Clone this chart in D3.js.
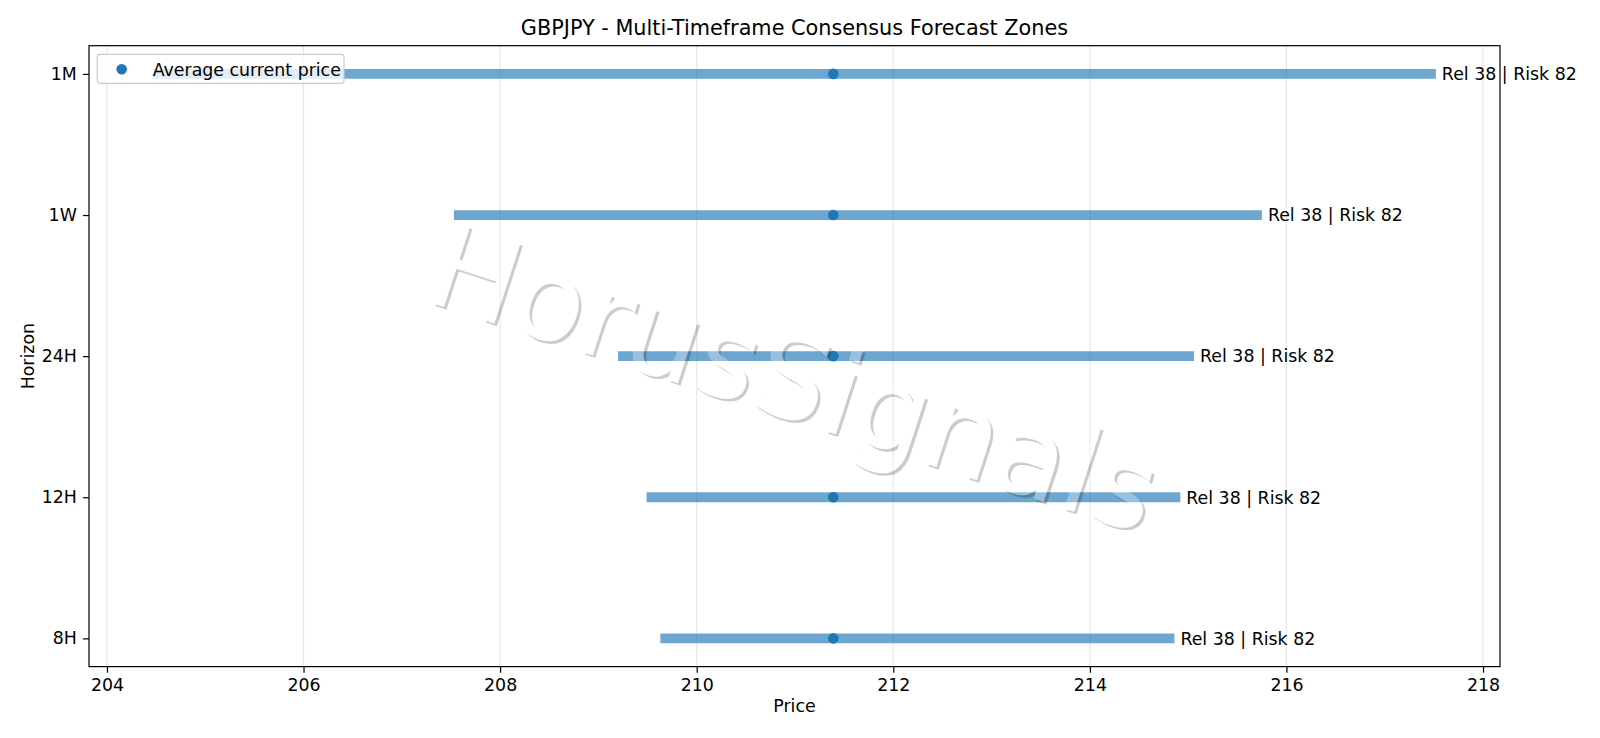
<!DOCTYPE html>
<html>
<head>
<meta charset="utf-8">
<script src="https://cdn.jsdelivr.net/npm/d3@7/dist/d3.min.js"></script>
<style>
  html, body { margin: 0; padding: 0; background: #fff; }
  svg { display: block; font-family: "DejaVu Sans", sans-serif; }
</style>
</head>
<body>
<svg id="chart" width="1600" height="738"></svg>
<script>
// ---- data ----
const horizons = ["8H", "12H", "24H", "1W", "1M"];
const zoneLow  = [209.63, 209.49, 209.20, 207.53, 204.47];
const zoneHigh = [214.86, 214.92, 215.06, 215.75, 217.52];
const currentPrice = [211.39, 211.39, 211.39, 211.39, 211.39];
const zoneLabels = ["Rel 38 | Risk 82", "Rel 38 | Risk 82", "Rel 38 | Risk 82", "Rel 38 | Risk 82", "Rel 38 | Risk 82"];
const xTicks = [204, 206, 208, 210, 212, 214, 216, 218];
const titleText = "GBPJPY - Multi-Timeframe Consensus Forecast Zones";
const legendText = "Average current price";
const watermarkText = "HorusSignals";

// ---- layout ----
const W = 1600, H = 738;
const L = 89, R = 1500, T = 45.7, B = 666.6;
const FS = 17.36, FT = 20.8, LW = 1.2, TK = 6.1;
const svg = d3.select("#chart");

const x = d3.scaleLinear().domain([203.8175, 218.1725]).range([L, R]);
const y = d3.scaleLinear().domain([-0.2, horizons.length - 1 + 0.2]).range([B, T]);

const blue = "#1f77b4";

// grid
svg.append("g").selectAll("line").data(xTicks).join("line")
  .attr("x1", d => x(d)).attr("x2", d => x(d))
  .attr("y1", T).attr("y2", B)
  .attr("stroke", "#b0b0b0").attr("stroke-opacity", 0.3).attr("stroke-width", LW);

const rows = horizons.map((h, i) => ({ h, i, lo: zoneLow[i], hi: zoneHigh[i], cur: currentPrice[i], lab: zoneLabels[i] }));

// bars
svg.append("g").selectAll("line").data(rows).join("line")
  .attr("x1", d => x(d.lo)).attr("x2", d => x(d.hi))
  .attr("y1", d => y(d.i)).attr("y2", d => y(d.i))
  .attr("stroke", blue).attr("stroke-opacity", 0.65).attr("stroke-width", 9.8);

// current price dots
svg.append("g").selectAll("circle").data(rows).join("circle")
  .attr("cx", d => x(d.cur)).attr("cy", d => y(d.i)).attr("r", 5.3)
  .attr("fill", blue);

// labels
svg.append("g").selectAll("text").data(rows).join("text")
  .attr("x", d => x(d.hi) + 6).attr("y", d => y(d.i))
  .attr("dy", "0.36em")
  .attr("font-size", FS).attr("fill", "#000")
  .text(d => d.lab);

// watermark
const defs = svg.append("defs");
const wmFont = 116;
const wmX = 782, wmY = 417, wmRot = 18, sh = 2.6;
const mask = defs.append("mask").attr("id", "wmMask")
  .attr("maskUnits", "userSpaceOnUse")
  .attr("x", 0).attr("y", 0).attr("width", W).attr("height", H);
mask.append("rect").attr("x", 0).attr("y", 0).attr("width", W).attr("height", H).attr("fill", "#fff");
mask.append("text")
  .attr("transform", `translate(${wmX},${wmY}) rotate(${wmRot})`)
  .attr("text-anchor", "middle").attr("font-size", wmFont).attr("fill", "#000")
  .style("font-kerning", "none")
  .text(watermarkText);
svg.append("g").attr("mask", "url(#wmMask)")
  .append("text")
  .attr("transform", `translate(${wmX + sh},${wmY + sh}) rotate(${wmRot})`)
  .attr("text-anchor", "middle").attr("font-size", wmFont)
  .attr("fill", "#000").attr("fill-opacity", 0.2)
  .style("font-kerning", "none")
  .text(watermarkText);
svg.append("text")
  .attr("transform", `translate(${wmX},${wmY}) rotate(${wmRot})`)
  .attr("text-anchor", "middle").attr("font-size", wmFont)
  .attr("fill", "#fff").attr("fill-opacity", 0.3)
  .style("font-kerning", "none")
  .text(watermarkText);

// axes
const xAxis = d3.axisBottom(x).tickValues(xTicks).tickSize(TK).tickPadding(TK).tickFormat(d3.format("d"));
const gx = svg.append("g").attr("transform", `translate(0,${B})`).call(xAxis);
gx.select(".domain").remove();
gx.selectAll(".tick line").attr("stroke", "#000").attr("stroke-width", LW);
gx.selectAll(".tick text").attr("font-size", FS).attr("font-family", "DejaVu Sans").attr("fill", "#000");

const yAxis = d3.axisLeft(y).tickValues(horizons.map((h, i) => i)).tickFormat(i => horizons[i]).tickSize(TK).tickPadding(TK);
const gy = svg.append("g").attr("transform", `translate(${L},0)`).call(yAxis);
gy.select(".domain").remove();
gy.selectAll(".tick line").attr("stroke", "#000").attr("stroke-width", LW);
gy.selectAll(".tick text").attr("font-size", FS).attr("font-family", "DejaVu Sans").attr("fill", "#000");

// spines
svg.append("rect").attr("x", L).attr("y", T).attr("width", R - L).attr("height", B - T)
  .attr("fill", "none").attr("stroke", "#000").attr("stroke-width", LW);

// title & labels
svg.append("text").attr("x", (L + R) / 2).attr("y", 35.3)
  .attr("text-anchor", "middle").attr("font-size", FT).text(titleText);
svg.append("text").attr("x", (L + R) / 2).attr("y", 712)
  .attr("text-anchor", "middle").attr("font-size", FS).text("Price");
svg.append("text").attr("transform", `translate(34,${(T + B) / 2}) rotate(-90)`)
  .attr("text-anchor", "middle").attr("font-size", FS).text("Horizon");

// legend
const lg = svg.append("g");
lg.append("rect").attr("x", 97.3).attr("y", 54.3).attr("width", 246.7).attr("height", 29)
  .attr("rx", 2.8).attr("fill", "#fff").attr("fill-opacity", 0.8)
  .attr("stroke", "#cccccc").attr("stroke-width", LW);
lg.append("circle").attr("cx", 121.7).attr("cy", 69.3).attr("r", 5.3).attr("fill", blue);
lg.append("text").attr("x", 152.7).attr("y", 69.3).attr("dy", "0.36em")
  .attr("font-size", FS).text(legendText);
</script>
</body>
</html>
